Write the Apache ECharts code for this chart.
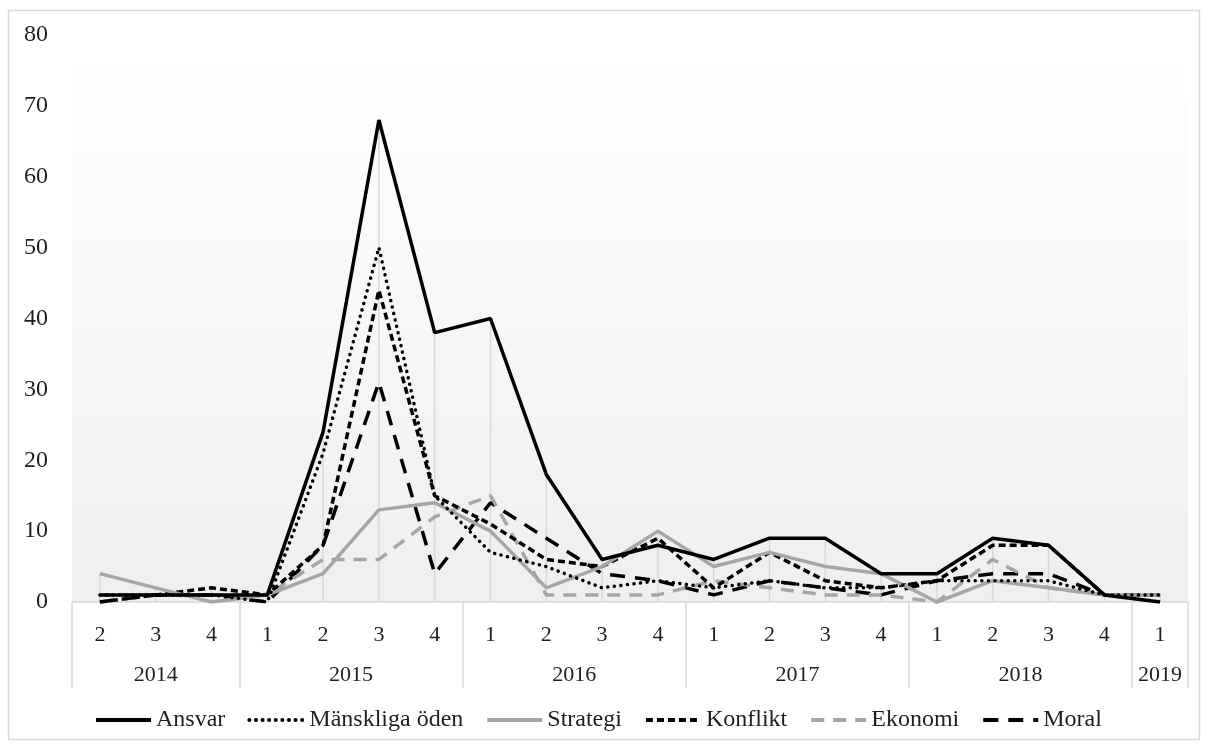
<!DOCTYPE html>
<html>
<head>
<meta charset="utf-8">
<script src="https://cdn.jsdelivr.net/npm/echarts@6/dist/echarts.min.js"></script>
<style>
html,body{margin:0;padding:0;background:#ffffff;}
#c{width:1208px;height:748px;}
</style>
</head>
<body>
<div id="c"></div>
<script>
// ---- data ----
const quarters = ['2','3','4','1','2','3','4','1','2','3','4','1','2','3','4','1','2','3','4','1'];
const years = ['2014','2015','2016','2017','2018','2019'];
const quartersPerYear = [3,4,4,4,4,1];
const yTicks = [0,10,20,30,40,50,60,70,80];

const ansvar     = [1,1,1,1,24,68,38,40,18,6,8,6,9,9,4,4,9,8,1,0];
const manskliga  = [1,1,1,0,21,50,15,7,5,2,3,2,3,2,2,3,3,3,1,1];
const strategi   = [4,2,0,1,4,13,14,10,2,5,10,5,7,5,4,0,3,2,1,1];
const konflikt   = [0,1,2,1,8,44,15,11,6,5,9,2,7,3,2,3,8,8,1,1];
const ekonomi    = [1,1,1,1,6,6,12,15,1,1,1,3,2,1,1,0,6,2,1,0];
const moral      = [0,1,1,0,8,31,4,14,9,4,3,1,3,2,1,3,4,4,1,1];

const seriesNames = ['Ansvar','Mänskliga öden','Strategi','Konflikt','Ekonomi','Moral'];
const seriesData = [ansvar, manskliga, strategi, konflikt, ekonomi, moral];

// ---- derived ----
const dropLines = quarters.map((q,i) => Math.max(...seriesData.map(s => s[i])));

// year axis built on half-quarter points (boundaryGap false, 2*N+1 points)
const yearAxisData = new Array(quarters.length * 2 + 1).fill('');
const boundaries = new Set();
let start = 0;
years.forEach((y, k) => {
  const n = quartersPerYear[k];
  boundaries.add(2 * start);
  yearAxisData[2 * start + n] = y;
  start += n;
});
boundaries.add(2 * start);

const FONT = "'Liberation Serif','Times New Roman',serif";
const TXT = '#1f1f1f';

const styles = [
  {color:'#000000', width:3.5, type:'solid'},
  {color:'#000000', width:3.5, type:[0.1,6.5], cap:'round'},
  {color:'#a6a6a6', width:3.5, type:'solid'},
  {color:'#000000', width:3.5, type:[7,4]},
  {color:'#a6a6a6', width:3.5, type:[13,9]},
  {color:'#000000', width:3.5, type:[15,10]}
];

const chart = echarts.init(document.getElementById('c'), null, {renderer:'canvas'});

const series = [{
  name:'drop',
  type:'bar',
  data: dropLines,
  barWidth: 1.5,
  silent: true,
  z: 1,
  itemStyle:{color:'#d9d9d9'}
}];
seriesNames.forEach((name, i) => {
  series.push({
    name: name,
    type: 'line',
    data: seriesData[i],
    symbol: 'none',
    z: 10 - i,
    lineStyle: styles[i],
    itemStyle: {color: styles[i].color}
  });
});

chart.setOption({
  animation: false,
  backgroundColor: '#ffffff',
  textStyle: {fontFamily: FONT},
  graphic: [{
    type: 'rect',
    shape: {x: 8.5, y: 10.5, width: 1191, height: 729},
    style: {fill: 'none', stroke: '#d9d9d9', lineWidth: 1.5},
    z: -1
  }],
  grid: {
    left: 72, right: 20, top: 35, bottom: 146,
    show: true,
    borderWidth: 0,
    backgroundColor: {
      type:'linear', x:0, y:0, x2:0, y2:1,
      colorStops:[{offset:0,color:'#ffffff'},{offset:1,color:'#efefef'}]
    }
  },
  legend: {
    data: seriesNames,
    left: 89,
    top: 703,
    itemWidth: 55,
    itemHeight: 14,
    itemGap: 22,
    itemStyle: {color: 'rgba(0,0,0,0)', borderWidth: 0, opacity: 0},
    lineStyle: {width: 4},
    textStyle: {fontFamily: FONT, fontSize: 24, color: TXT}
  },
  xAxis: [{
    type: 'category',
    data: quarters,
    boundaryGap: true,
    axisLine: {show: true, lineStyle: {color: '#d9d9d9', width: 1.5}},
    axisTick: {show: false},
    axisLabel: {fontFamily: FONT, fontSize: 22, color: TXT, margin: 22, interval: 0},
    splitLine: {show: false}
  }, {
    type: 'category',
    data: yearAxisData,
    boundaryGap: false,
    position: 'bottom',
    axisLine: {show: false},
    axisTick: {
      show: true, length: 86,
      interval: (idx) => boundaries.has(idx),
      lineStyle: {color: '#d9d9d9', width: 1.5}
    },
    axisLabel: {
      fontFamily: FONT, fontSize: 22, color: TXT, margin: 62,
      interval: (idx, val) => val !== ''
    },
    splitLine: {show: false}
  }],
  yAxis: {
    type: 'value',
    min: yTicks[0],
    max: yTicks[yTicks.length - 1],
    interval: 10,
    axisLine: {show: false},
    axisTick: {show: false},
    splitLine: {show: false},
    axisLabel: {fontFamily: FONT, fontSize: 24, color: TXT, margin: 24}
  },
  series: series
});
</script>
</body>
</html>
